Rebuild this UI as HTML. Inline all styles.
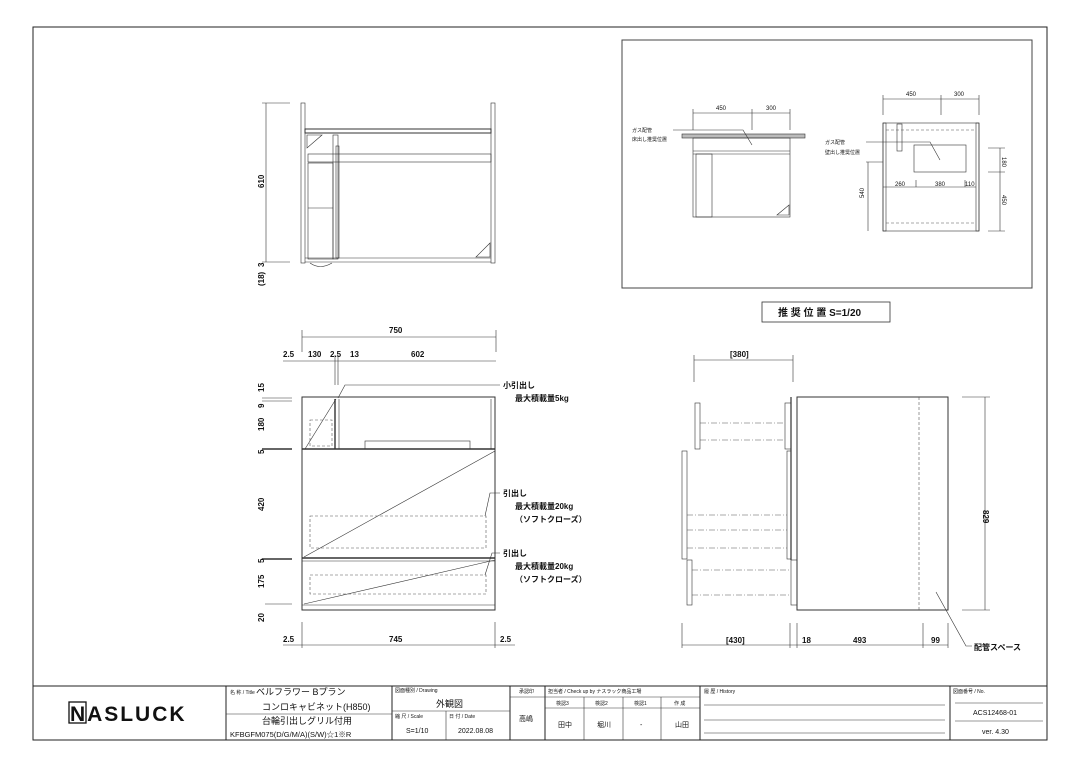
<!DOCTYPE html>
<html><head><meta charset="utf-8"><style>
html,body{margin:0;padding:0;background:#fff}
svg{display:block}
text{font-family:"Liberation Sans","Noto Sans CJK JP",sans-serif;fill:#111}
.s{font-size:5px}.m{font-size:8px;font-weight:bold}.l{font-size:10px}
.ln{stroke:#222;fill:none;stroke-width:1}
.th{stroke:#333;fill:none;stroke-width:0.6}
.dd{stroke:#555;fill:none;stroke-width:0.6;stroke-dasharray:3 2}
.dc{stroke:#555;fill:none;stroke-width:0.6;stroke-dasharray:6 2 1 2}
</style></head><body>
<svg width="1080" height="764" viewBox="0 0 1080 764" xmlns="http://www.w3.org/2000/svg">
<rect x="33" y="27" width="1014" height="713" class="ln" stroke-width="1.2"/>
<!-- title block -->
<line x1="33" y1="686" x2="1047" y2="686" class="ln" stroke-width="1.5"/>
<g class="ln">
<line x1="226" y1="686" x2="226" y2="740"/><line x1="392" y1="686" x2="392" y2="740"/>
<line x1="510" y1="686" x2="510" y2="740"/><line x1="545" y1="686" x2="545" y2="740"/>
<line x1="700" y1="686" x2="700" y2="740"/><line x1="950" y1="686" x2="950" y2="740"/>
</g>
<g class="th">
<line x1="226" y1="714" x2="392" y2="714"/><line x1="392" y1="711" x2="510" y2="711"/>
<line x1="446" y1="711" x2="446" y2="740"/><line x1="510" y1="697" x2="545" y2="697"/>
<line x1="545" y1="697" x2="700" y2="697"/><line x1="545" y1="708" x2="700" y2="708"/>
<line x1="584" y1="697" x2="584" y2="740"/><line x1="623" y1="697" x2="623" y2="740"/><line x1="661" y1="697" x2="661" y2="740"/>
<line x1="704" y1="705" x2="945" y2="705"/><line x1="704" y1="720" x2="945" y2="720"/><line x1="704" y1="733" x2="945" y2="733"/>
<line x1="955" y1="703" x2="1043" y2="703"/><line x1="955" y1="721" x2="1043" y2="721"/>
</g>
<text x="70" y="721" style="font-size:21px;font-weight:900;letter-spacing:-0.5px" textLength="114">NASLUCK</text>
<rect x="69" y="702" width="17" height="21" fill="none" stroke="#111" stroke-width="1.3"/>
<text x="230" y="694" class="s">名 称 / Title</text>
<text x="256" y="695" style="font-size:9px">ベルフラワー Bプラン</text>
<text x="262" y="710" style="font-size:9px">コンロキャビネット(H850)</text>
<text x="262" y="724" style="font-size:9px">台輪引出しグリル付用</text>
<text x="230" y="737" style="font-size:7.5px">KFBGFM075(D/G/M/A)(S/W)☆1※R</text>
<text x="395" y="692" class="s">図面種別 / Drawing</text>
<text x="436" y="707" style="font-size:9px">外観図</text>
<text x="395" y="718" class="s">縮 尺 / Scale</text><text x="449" y="718" class="s">日 付 / Date</text>
<text x="406" y="733" style="font-size:7px">S=1/10</text><text x="458" y="733" style="font-size:7px">2022.08.08</text>
<text x="519" y="693" class="s">承認印</text><text x="519" y="721" style="font-size:7px">高嶋</text>
<text x="548" y="693" class="s">担当者 / Check up by ナスラック商品工場</text>
<text x="556" y="705" class="s">検認3</text><text x="595" y="705" class="s">検認2</text><text x="634" y="705" class="s">検認1</text><text x="674" y="705" class="s">作 成</text>
<text x="558" y="727" style="font-size:7px">田中</text><text x="597" y="727" style="font-size:7px">堀川</text><text x="640" y="727" style="font-size:7px">-</text><text x="675" y="727" style="font-size:7px">山田</text>
<text x="704" y="693" class="s">履 歴 / History</text>
<text x="953" y="693" class="s">図面番号 / No.</text>
<text x="973" y="715" style="font-size:7px">ACS12468-01</text>
<text x="982" y="734" style="font-size:7px">ver. 4.30</text>

<!-- top plan view -->
<g class="th">
<rect x="301" y="103" width="4" height="160"/><rect x="491" y="103" width="4" height="160"/>
<rect x="305" y="129" width="186" height="4" stroke-width="1"/>
<rect x="308" y="154" width="183" height="8"/>
<rect x="308" y="163" width="25" height="96"/><line x1="308" y1="208" x2="333" y2="208"/>
<rect x="333" y="135" width="5" height="124"/><rect x="336" y="146" width="3" height="112"/>
<line x1="305" y1="258" x2="491" y2="258"/><line x1="305" y1="262" x2="491" y2="262"/>
<polygon points="307,135 322,135 307,148"/><polygon points="490,243 490,257 476,257"/>
<path d="M310 263 Q320 270 332 263"/>
<line x1="266" y1="103" x2="266" y2="262"/><line x1="262" y1="103" x2="290" y2="103"/><line x1="262" y1="262" x2="290" y2="262"/>
</g>
<text class="m" transform="translate(264,188) rotate(-90)">610</text>
<text class="m" transform="translate(264,267) rotate(-90)">3</text>
<text class="m" transform="translate(264,286) rotate(-90)">(18)</text>

<!-- front view -->
<g class="th">
<line x1="302" y1="337" x2="496" y2="337"/><line x1="302" y1="330" x2="302" y2="352"/><line x1="496" y1="330" x2="496" y2="352"/>
<line x1="283" y1="361" x2="496" y2="361"/><line x1="335" y1="355" x2="335" y2="385"/><line x1="338" y1="355" x2="338" y2="385"/>
<rect x="302" y="397" width="193" height="213" stroke-width="1"/>
<line x1="302" y1="449" x2="495" y2="449" stroke-width="1.4"/>
<line x1="302" y1="558" x2="495" y2="558" stroke-width="1.4"/><line x1="302" y1="561" x2="495" y2="561"/>
<line x1="302" y1="605" x2="495" y2="605"/>
<line x1="335" y1="399" x2="335" y2="449" stroke-width="1.4"/><line x1="339" y1="399" x2="339" y2="449"/>
<line x1="491" y1="399" x2="491" y2="449"/>
<rect x="365" y="441" width="105" height="8"/>
<line x1="305" y1="449" x2="336" y2="399"/>
<line x1="495" y1="451" x2="304" y2="557"/><line x1="495" y1="560" x2="304" y2="604"/>
<line x1="262" y1="398" x2="292" y2="398"/><line x1="262" y1="401" x2="292" y2="401"/>
<line x1="262" y1="449" x2="292" y2="449" stroke-width="1.4"/><line x1="262" y1="559" x2="292" y2="559" stroke-width="1.4"/>
<line x1="265" y1="604" x2="292" y2="604"/>
<line x1="302" y1="622" x2="302" y2="648"/><line x1="495" y1="622" x2="495" y2="648"/>
<line x1="283" y1="645" x2="515" y2="645"/>
<polyline points="338,398 345,385 500,385"/><polyline points="485,516 490,493 500,493"/><polyline points="485,575 492,553 500,553"/>
</g>
<rect x="310" y="420" width="22" height="26" class="dd"/>
<rect x="310" y="516" width="176" height="32" class="dd"/>
<rect x="310" y="575" width="176" height="19" class="dd"/>
<text x="389" y="333" class="m">750</text>
<text x="283" y="357" class="m">2.5</text><text x="308" y="357" class="m">130</text><text x="330" y="357" class="m">2.5</text><text x="350" y="357" class="m">13</text><text x="411" y="357" class="m">602</text>
<text x="283" y="642" class="m">2.5</text><text x="389" y="642" class="m">745</text><text x="500" y="642" class="m">2.5</text>
<g class="m">
<text transform="translate(264,392) rotate(-90)">15</text><text transform="translate(264,408) rotate(-90)">9</text>
<text transform="translate(264,431) rotate(-90)">180</text><text transform="translate(264,454) rotate(-90)">5</text>
<text transform="translate(264,511) rotate(-90)">420</text><text transform="translate(264,563) rotate(-90)">5</text>
<text transform="translate(264,588) rotate(-90)">175</text><text transform="translate(264,622) rotate(-90)">20</text>
</g>
<text x="503" y="388" class="m">小引出し</text><text x="515" y="401" class="m">最大積載量5kg</text>
<text x="503" y="496" class="m">引出し</text><text x="515" y="509" class="m">最大積載量20kg</text><text x="515" y="522" class="m">（ソフトクローズ）</text>
<text x="503" y="556" class="m">引出し</text><text x="515" y="569" class="m">最大積載量20kg</text><text x="515" y="582" class="m">（ソフトクローズ）</text>

<!-- side view -->
<g class="th">
<rect x="797" y="397" width="151" height="213" stroke-width="1"/>
<line x1="694" y1="360" x2="793" y2="360"/><line x1="694" y1="355" x2="694" y2="382"/><line x1="793" y1="355" x2="793" y2="382"/>
<line x1="985" y1="397" x2="985" y2="610"/><line x1="962" y1="397" x2="990" y2="397"/><line x1="962" y1="610" x2="990" y2="610"/>
<line x1="682" y1="645" x2="948" y2="645"/>
<line x1="682" y1="623" x2="682" y2="648"/><line x1="790" y1="623" x2="790" y2="648"/><line x1="797" y1="623" x2="797" y2="648"/>
<line x1="923" y1="623" x2="923" y2="648"/><line x1="948" y1="623" x2="948" y2="648"/>
<polyline points="936,592 966,646 972,646"/>
<rect x="695" y="403" width="5" height="46"/><rect x="785" y="403" width="6" height="46"/>
<rect x="682" y="451" width="5" height="108"/><rect x="787" y="451" width="4" height="108"/>
<rect x="687" y="560" width="5" height="45"/><rect x="791" y="560" width="6" height="45"/>
<line x1="791" y1="397" x2="791" y2="560" stroke-width="1.2"/>
</g>
<line x1="919" y1="397" x2="919" y2="610" class="dd"/>
<g class="dc">
<line x1="700" y1="423" x2="785" y2="423"/><line x1="700" y1="440" x2="785" y2="440"/>
<line x1="687" y1="515" x2="787" y2="515"/><line x1="687" y1="530" x2="787" y2="530"/><line x1="687" y1="548" x2="787" y2="548"/>
<line x1="692" y1="570" x2="791" y2="570"/><line x1="692" y1="595" x2="791" y2="595"/>
</g>
<text x="730" y="357" class="m">[380]</text>
<text x="726" y="643" class="m">[430]</text><text x="802" y="643" class="m">18</text><text x="853" y="643" class="m">493</text><text x="931" y="643" class="m">99</text>
<text class="m" transform="translate(983,510) rotate(90)">829</text>
<text x="974" y="650" class="m">配管スペース</text>

<!-- inset -->
<rect x="622" y="40" width="410" height="248" fill="none" stroke="#444" stroke-width="1"/>
<g class="th">
<rect x="682" y="134" width="123" height="4" fill="#bbb"/>
<rect x="693" y="138" width="97" height="79"/>
<line x1="693" y1="151" x2="790" y2="151"/><line x1="693" y1="154" x2="790" y2="154"/>
<rect x="696" y="154" width="16" height="63"/>
<polygon points="777,215 789,215 789,205"/>
<line x1="693" y1="113" x2="790" y2="113"/><line x1="693" y1="109" x2="693" y2="130"/><line x1="752" y1="109" x2="752" y2="130"/><line x1="790" y1="109" x2="790" y2="130"/>
<polyline points="673,130 743,130 752,145"/>
<rect x="883" y="123" width="96" height="108"/><rect x="883" y="123" width="3" height="108"/><rect x="976" y="123" width="3" height="108"/>
<rect x="914" y="145" width="52" height="27"/>
<rect x="897" y="124" width="5" height="27"/>
<line x1="883" y1="99" x2="979" y2="99"/><line x1="883" y1="95" x2="883" y2="115"/><line x1="941" y1="95" x2="941" y2="115"/><line x1="979" y1="95" x2="979" y2="115"/>
<line x1="883" y1="187" x2="976" y2="187"/><line x1="916" y1="180" x2="916" y2="187"/><line x1="965" y1="180" x2="965" y2="187"/>
<line x1="868" y1="162" x2="868" y2="231"/><line x1="866" y1="162" x2="883" y2="162"/>
<line x1="1000" y1="148" x2="1000" y2="231"/><line x1="988" y1="148" x2="1005" y2="148"/><line x1="988" y1="172" x2="1005" y2="172"/><line x1="988" y1="231" x2="1005" y2="231"/>
<polyline points="866,142 930,142 940,160"/>
</g>
<line x1="886" y1="130" x2="976" y2="130" class="dd"/><line x1="886" y1="223" x2="976" y2="223" class="dd"/>
<text x="716" y="110" class="s" style="font-size:6px">450</text><text x="766" y="110" class="s" style="font-size:6px">300</text>
<text x="906" y="96" class="s" style="font-size:6px">450</text><text x="954" y="96" class="s" style="font-size:6px">300</text>
<text x="895" y="186" class="s" style="font-size:6px">260</text><text x="935" y="186" class="s" style="font-size:6px">380</text><text x="965" y="186" class="s" style="font-size:6px">110</text>
<text x="632" y="132" class="s">ガス配管</text><text x="632" y="141" class="s">床出し推奨位置</text>
<text x="825" y="144" class="s">ガス配管</text><text x="825" y="154" class="s">壁出し推奨位置</text>
<text class="s" style="font-size:6px" transform="translate(1002,157) rotate(90)">180</text>
<text class="s" style="font-size:6px" transform="translate(1002,195) rotate(90)">450</text>
<text class="s" style="font-size:6px" transform="translate(864,198) rotate(-90)">540</text>
<rect x="762" y="302" width="128" height="20" fill="none" stroke="#333" stroke-width="0.8"/>
<text x="778" y="316" style="font-size:10px;font-weight:bold">推 奨 位 置  S=1/20</text>
</svg>
</body></html>
